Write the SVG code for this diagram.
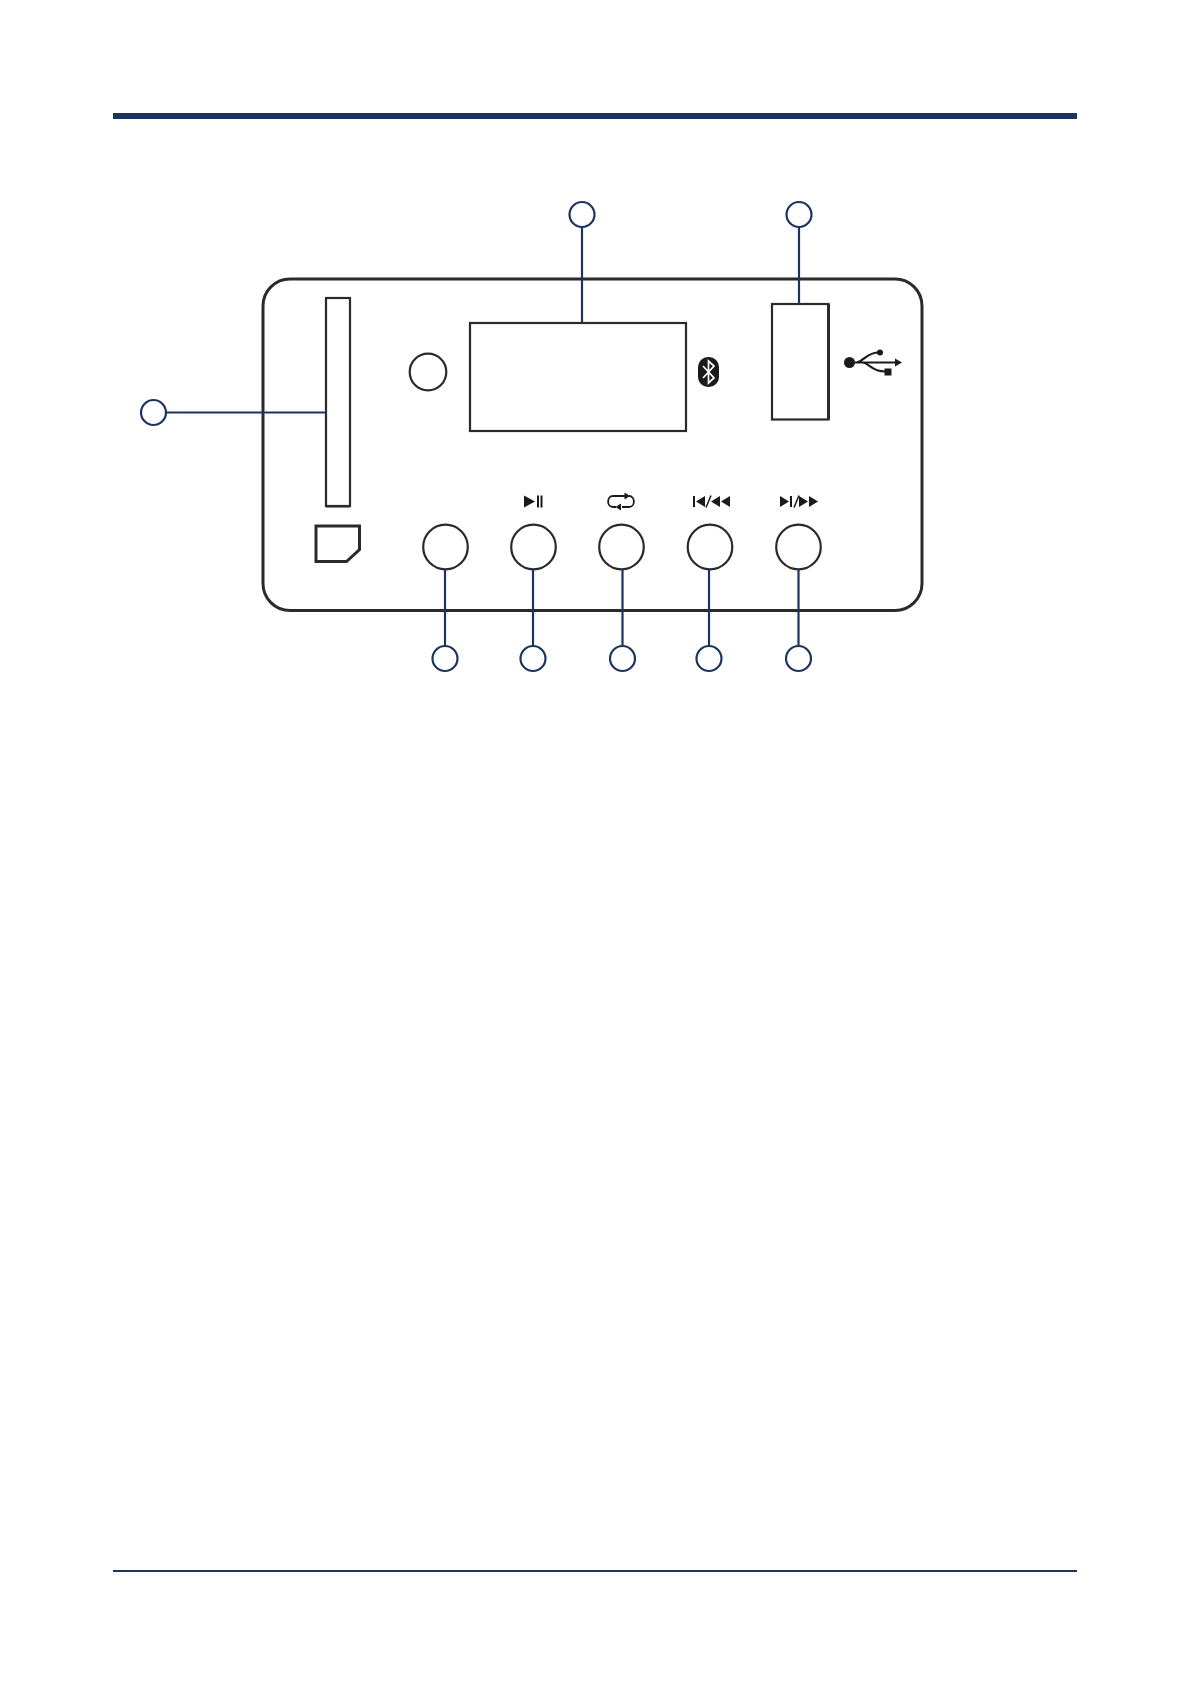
<svg xmlns="http://www.w3.org/2000/svg" width="1191" height="1684" viewBox="0 0 1191 1684">
<style>
.k{fill:none;stroke:#2a2a2a;stroke-width:3}
.b{fill:#fff;stroke:#2a2a2a;stroke-width:2.200}
.c{fill:#fff;stroke:#1c3560;stroke-width:2.200}
.l{fill:none;stroke:#1c3560;stroke-width:2.200}
.i{fill:#1a1a1a;stroke:none}
</style>
<rect width="1191" height="1684" fill="#fff"/>
<g id="header"><rect x="113" y="113" width="964" height="6" fill="#1c3560"/></g>
<g id="footer"><rect x="113" y="1570" width="964" height="2" fill="#1c3560"/></g>
<g id="panel"><rect x="263" y="279" width="659" height="331.500" rx="27" fill="none" stroke="#2a2a2a" stroke-width="3"/></g>
<g id="card-slot"><rect class="b" x="326" y="298" width="24" height="208"/><path d="M326 506.500H350" stroke="#2a2a2a" stroke-width="2" fill="none"/></g>
<g id="sd-icon"><path class="k" d="M316 526H359.500V549.500L346.500 561.500H316Z"/></g>
<g id="sensor"><circle class="b" cx="428" cy="372" r="18.300"/></g>
<g id="display"><rect class="b" x="470" y="323" width="216" height="108"/></g>
<g id="usb-port"><rect class="b" x="772" y="304" width="56.500" height="115.500"/><path d="M828.500 304V419.500" stroke="#2a2a2a" stroke-width="3" fill="none"/></g>
<g id="bluetooth-icon">
<rect class="i" x="698" y="357" width="21" height="30" rx="10"/>
<path d="M703 366L714 378L708.500 383V361L714 366L703 378" fill="none" stroke="#fff" stroke-width="1.700"/>
</g>
<g id="usb-icon">
<circle class="i" cx="849.500" cy="362.500" r="5.500"/>
<path d="M849 362.500H896M857 362.500C865 360 867 352.500 879 352.500M863 362.500C870 364 872 371.500 885 371.500" fill="none" stroke="#1a1a1a" stroke-width="2.200"/>
<circle class="i" cx="880" cy="352.500" r="3"/>
<rect class="i" x="884.500" y="368.500" width="7" height="7"/>
<path class="i" d="M895 358.500L902 362.500L895 366.500Z"/>
</g>
<g id="btn-1"><circle class="b" cx="445.500" cy="547" r="22.300"/></g>
<g id="btn-2"><circle class="b" cx="533.500" cy="547" r="22.300"/>
<path class="i" d="M524 495.500L535 501.500L524 507.500Z"/><rect class="i" x="537" y="495.500" width="2" height="12"/><rect class="i" x="540.500" y="495.500" width="2" height="12"/></g>
<g id="btn-3"><circle class="b" cx="621.500" cy="547" r="22.300"/>
<path d="M616 507H613C606.500 507 606.500 496 613 496H628M622 507H629C635.500 507 635.500 496 629 496" fill="none" stroke="#1a1a1a" stroke-width="1.800"/>
<path class="i" d="M624.500 492.500L630 496L624.500 499.500Z"/><path class="i" d="M621 503.500L615.500 507L621 510.500Z"/></g>
<g id="btn-4"><circle class="b" cx="710" cy="547" r="22.300"/>
<rect class="i" x="693" y="496" width="2" height="11"/><path class="i" d="M696 501.500L705 496V507Z"/>
<path d="M706 507.500L711 495.500" stroke="#1a1a1a" stroke-width="1.500"/>
<path class="i" d="M711 501.500L720 496V507Z"/><path class="i" d="M721 501.500L730 496V507Z"/></g>
<g id="btn-5"><circle class="b" cx="798.500" cy="547" r="22.300"/>
<path class="i" d="M780 496L789 501.500L780 507Z"/><rect class="i" x="790" y="496" width="2" height="11"/>
<path d="M794 507.500L799 495.500" stroke="#1a1a1a" stroke-width="1.500"/>
<path class="i" d="M799 496L808 501.500L799 507Z"/><path class="i" d="M809 496L818 501.500L809 507Z"/></g>
<g id="connectors">
<path class="l" d="M582 226V323M799 226V304M166 412.500H326M445 569V646M533 569V646M622.500 569V646M709 569V646M798.500 569V646"/>
</g>
<g id="callout-1"><circle class="c" cx="582" cy="214.500" r="12.500"/></g>
<g id="callout-2"><circle class="c" cx="799" cy="214.500" r="12.500"/></g>
<g id="callout-3"><circle class="c" cx="153.500" cy="412.500" r="12.500"/></g>
<g id="callout-4"><circle class="c" cx="445" cy="658.500" r="12.500"/></g>
<g id="callout-5"><circle class="c" cx="533" cy="658.500" r="12.500"/></g>
<g id="callout-6"><circle class="c" cx="622.500" cy="658.500" r="12.500"/></g>
<g id="callout-7"><circle class="c" cx="709" cy="658.500" r="12.500"/></g>
<g id="callout-8"><circle class="c" cx="798.500" cy="658.500" r="12.500"/></g>
</svg>
